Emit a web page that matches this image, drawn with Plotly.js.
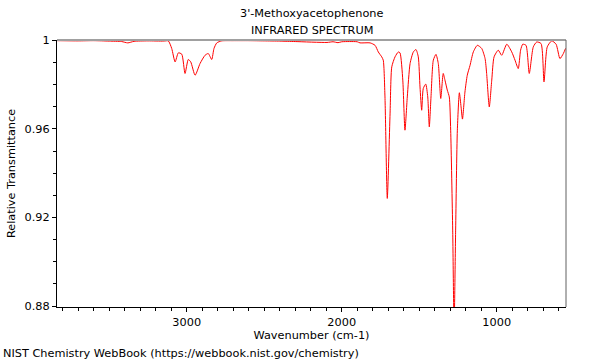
<!DOCTYPE html>
<html>
<head>
<meta charset="utf-8">
<script src="https://cdn.plot.ly/plotly-3.0.1.min.js"></script>
<style>html,body{margin:0;padding:0;background:#fff;}#chart{width:600px;height:360px;}</style>
</head>
<body>
<div id="chart"></div>
<script>
const wavenumber = [3835,3700,3600,3500,3420,3380,3340,3250,3150,3119,3097,3075,3054,3032,3011,2990,2974,2946,2914,2882,2861,2839,2824,2806,2774,2700,2600,2500,2400,2300,2095,2056,2024,2000,1950,1900,1882,1817,1785,1764,1742,1732,1721,1706,1688,1677,1656,1635,1624,1606,1592,1577,1559,1538,1521,1506,1495,1484,1474,1458,1445,1435,1424,1409,1392,1377,1361,1345,1334,1319,1306,1297,1284,1275,1265,1254,1241,1230,1221,1205,1190,1172,1151,1125,1097,1075,1065,1048,1032,1017,990,968,935,903,882,861,846,832,811,790,764,742,714,695,674,645,617,592,570,556];
const transmittance = [0.9998,0.9997,0.9998,0.9996,0.9994,0.9988,0.9995,0.9997,0.9996,0.9997,0.9963,0.9902,0.9943,0.9937,0.9850,0.9913,0.9902,0.9842,0.9895,0.9932,0.9940,0.9913,0.9963,0.9988,0.9997,0.9998,0.9998,0.9997,0.9996,0.9994,0.9990,0.9993,0.9989,0.9993,0.9994,0.9993,0.9988,0.9988,0.9977,0.9947,0.9925,0.9910,0.9744,0.9286,0.9671,0.9880,0.9925,0.9947,0.9943,0.9820,0.9594,0.9744,0.9895,0.9947,0.9958,0.9925,0.9789,0.9684,0.9782,0.9802,0.9744,0.9609,0.9744,0.9910,0.9936,0.9895,0.9737,0.9850,0.9820,0.9775,0.9744,0.9594,0.9143,0.8700,0.9143,0.9594,0.9763,0.9699,0.9644,0.9766,0.9842,0.9887,0.9947,0.9977,0.9963,0.9917,0.9850,0.9699,0.9820,0.9925,0.9955,0.9932,0.9982,0.9947,0.9910,0.9872,0.9955,0.9982,0.9977,0.9850,0.9970,0.9992,0.9985,0.9812,0.9970,0.9997,0.9982,0.9917,0.9940,0.9963];
const xTickVals = [1000, 2000, 3000];
const xTickText = ['1000', '2000', '3000'];
const yTickVals = [0.88, 0.92, 0.96, 1];
const yTickText = ['0.88', '0.92', '0.96', '1'];
const titleLines = ["3'-Methoxyacetophenone", 'INFRARED SPECTRUM'];
const xTitle = 'Wavenumber (cm-1)';
const yTitle = 'Relative Transmittance';
const footer = 'NIST Chemistry WebBook (https://webbook.nist.gov/chemistry)';

const font = {family: 'DejaVu Sans, sans-serif', size: 11.3, color: '#000'};

const trace = {
  x: wavenumber, y: transmittance, type: 'scatter', mode: 'lines',
  line: {color: 'rgb(255,0,0)', width: 1, shape: 'spline', smoothing: 0.6},
  hoverinfo: 'skip', cliponaxis: true
};

const layout = {
  width: 600, height: 360,
  margin: {l: 57, r: 34, t: 40, b: 53, pad: 0},
  paper_bgcolor: '#fff', plot_bgcolor: '#fff',
  font: font,
  showlegend: false,
  xaxis: {
    range: [3837, 553], showgrid: false, zeroline: false,
    showline: true, linecolor: '#000', linewidth: 1,
    ticks: 'outside', ticklen: 4, tickcolor: '#000', tickwidth: 1,
    tickmode: 'array', tickvals: xTickVals, ticktext: xTickText,
    tickfont: font,
    minor: {tickmode: 'linear', tick0: 0, dtick: 100, ticks: 'outside', ticklen: 3, tickcolor: '#000', showgrid: false},
    title: {text: xTitle, font: font, standoff: 2}
  },
  yaxis: {
    range: [0.8796, 1.0001], showgrid: false, zeroline: false,
    showline: true, linecolor: '#000', linewidth: 1,
    ticks: 'outside', ticklen: 4, tickcolor: '#000', tickwidth: 1,
    tickmode: 'array', tickvals: yTickVals, ticktext: yTickText,
    tickfont: font,
    minor: {tickmode: 'linear', tick0: 0.88, dtick: 0.01, ticks: 'outside', ticklen: 3, tickcolor: '#000', showgrid: false},
    title: {text: yTitle, font: font, standoff: 6}
  },
  shapes: [
    {type: 'line', xref: 'paper', yref: 'paper', x0: 0, x1: 1, y0: 1, y1: 1, line: {color: '#a0a0a0', width: 2}},
    {type: 'line', xref: 'paper', yref: 'paper', x0: 1, x1: 1, y0: 0, y1: 1, line: {color: '#606060', width: 1}}
  ],
  annotations: [
    {text: titleLines[0], xref: 'paper', yref: 'paper', x: 0.5, y: 1, yshift: 27, xanchor: 'center', yanchor: 'middle', showarrow: false, font: font},
    {text: titleLines[1], xref: 'paper', yref: 'paper', x: 0.5, y: 1, yshift: 10, xanchor: 'center', yanchor: 'middle', showarrow: false, font: font},
    {text: footer, xref: 'paper', yref: 'paper', x: 0, xshift: -56, y: 0, yshift: -46, xanchor: 'left', yanchor: 'middle', showarrow: false, font: font}
  ]
};

Plotly.newPlot('chart', [trace], layout, {displayModeBar: false, staticPlot: true});
</script>
</body>
</html>
